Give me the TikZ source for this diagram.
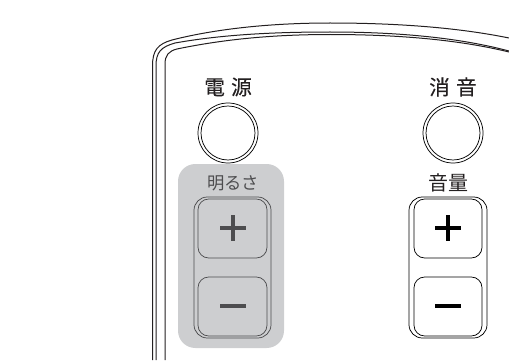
\documentclass[tikz,border=0pt]{standalone}
\usepackage{fontspec}
\newfontfamily\cjk{Noto Sans CJK JP}
\newfontfamily\cjkmed[FakeBold=0.25]{Noto Sans CJK JP}
\definecolor{panelgray}{HTML}{CDCED0}
\definecolor{inkgray}{HTML}{4D4D4F}
\definecolor{inkdark}{HTML}{231F20}
\tikzset{
  bodyline/.style={draw=inkdark,line width=0.75pt},
  btnline/.style={line width=0.55pt},
  label/.style={font=\cjkmed\fontsize{15.5}{15.5}\selectfont,text=inkdark,inner sep=0pt},
  sign/.style={line width=3.5pt},
}
\begin{document}
\begin{tikzpicture}[x=0.75pt,y=-0.75pt]
  \useasboundingbox (0,0) rectangle (509,360);

  % body of the remote
  \draw[bodyline] (152.5,360) -- (152.5,66) .. controls (152.5,50) and (158,44) .. (172,40) .. controls (215,29) and (270,23) .. (330,23) .. controls (400,23) and (460,28) .. (509,38);
  \draw[bodyline] (156,360) -- (156,66) .. controls (156,52) and (161,47) .. (175,43) .. controls (220,35) and (270,32) .. (330,32) .. controls (400,32) and (460,38) .. (509,51);
  \draw[bodyline] (165,360) -- (165,64) .. controls (165,55) and (169,51) .. (177,49) .. controls (225,39) and (275,34.5) .. (330,34.5) .. controls (400,34.5) and (460,40) .. (509,52);

  % round buttons
  \draw[btnline] (228,133) circle (30);
  \draw[btnline] (228,133) circle (27);
  \draw[btnline] (453,133) circle (30);
  \draw[btnline] (453,133) circle (27);

  % grey panel
  \fill[panelgray,rounded corners=13] (178,164) rectangle (284,348);

  % left pair
  \draw[btnline,draw=inkgray,rounded corners=10] (194,197) rectangle (271,338);
  \draw[btnline,draw=inkgray,rounded corners=8] (198,199) rectangle (267,258);
  \draw[btnline,draw=inkgray,rounded corners=8] (198,277) rectangle (267,336);
  \draw[sign,draw=inkgray] (220,228) -- (246,228);
  \draw[sign,draw=inkgray] (233,215) -- (233,241);
  \draw[sign,draw=inkgray] (220,306) -- (246,306);

  % right pair
  \draw[btnline,rounded corners=10] (409,197) rectangle (487,338);
  \draw[btnline,rounded corners=8] (414,199) rectangle (482,258);
  \draw[btnline,rounded corners=8] (414,277) rectangle (482,336);
  \draw[sign] (435,228) -- (461,228);
  \draw[sign] (448,215) -- (448,241);
  \draw[sign] (435,306) -- (461,306);

  \node[label] (power) at (228,87) {電\hspace{0.3em}源};
  \node[label] (mute) at (453,87) {消\hspace{0.3em}音};
  \node[label,text=inkgray,font=\cjk\fontsize{13}{13}\selectfont] (bright) at (233,183) {明るさ};
  \node[label,font=\cjk\fontsize{15}{15}\selectfont] (volume) at (448,183) {音量};
\end{tikzpicture}
\end{document}
